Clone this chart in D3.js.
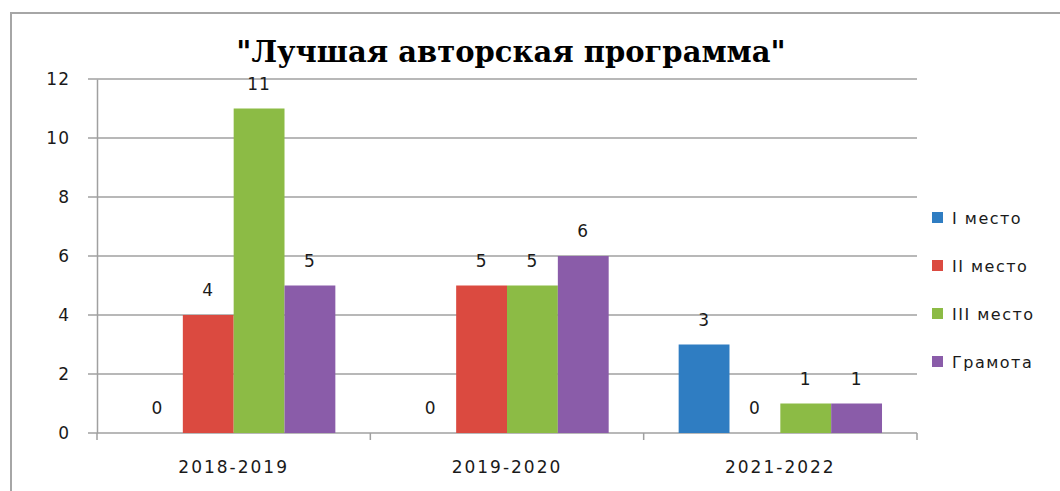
<!DOCTYPE html>
<html>
<head>
<meta charset="utf-8">
<script src="https://cdn.jsdelivr.net/npm/d3@7"></script>
<style>
	body { margin: 0; background: #fff; }
	text { font-family: "DejaVu Sans", sans-serif; fill: #1a1a1a; }
	text.title { font-family: "DejaVu Serif", serif; font-weight: bold; fill: #000; }
</style>
</head>
<body>
<script>
var categories = ["2018-2019", "2019-2020", "2021-2022"];
var seriesNames = ["I место", "II место", "III место", "Грамота"];
var seriesColors = ["#2f7dc2", "#db4a40", "#8cbb45", "#8a5ca9"];
var values = [
	[0, 0, 3],   // I место
	[4, 5, 0],   // II место
	[11, 5, 1],  // III место
	[5, 6, 1]    // Грамота
];
var yTicks = [0, 2, 4, 6, 8, 10, 12];
var title = "\"Лучшая авторская программа\"";

var W = 1060, H = 491;
var margin = { top: 79, right: 143, bottom: 58, left: 97 };
var width = W - margin.left - margin.right;
var height = H - margin.top - margin.bottom;

var svg = d3.select("body").append("svg")
	.attr("width", W)
	.attr("height", H);

// outer frame
svg.append("path")
	.attr("d", "M11," + H + " V13 H" + W)
	.attr("fill", "none")
	.attr("stroke", "#a6a6a6")
	.attr("stroke-width", 2);

svg.append("text")
	.attr("class", "title")
	.attr("x", 511)
	.attr("y", 62)
	.attr("text-anchor", "middle")
	.style("font-size", "29px")
	.text(title);

var g = svg.append("g")
	.attr("transform", "translate(" + margin.left + "," + margin.top + ")");

var x0 = d3.scaleBand()
	.domain(categories)
	.range([0, width])
	.paddingInner(0.256)
	.paddingOuter(0.128);

var x1 = d3.scaleBand()
	.domain(d3.range(seriesNames.length))
	.range([0, x0.bandwidth()]);

var y = d3.scaleLinear()
	.domain([0, 12])
	.range([height, 0]);

// gridlines
g.selectAll(".grid")
	.data(yTicks)
	.enter().append("line")
	.attr("x1", -9)
	.attr("x2", width)
	.attr("y1", function (d) { return y(d); })
	.attr("y2", function (d) { return y(d); })
	.attr("stroke", "#a0a0a0")
	.attr("stroke-width", 1.5);

// y axis
var yAxis = g.append("g")
	.call(d3.axisLeft(y).tickValues(yTicks).tickSize(0).tickPadding(27));
yAxis.select(".domain").attr("stroke", "#a0a0a0").attr("stroke-width", 1.5);
yAxis.selectAll("text")
	.style("font-family", "'DejaVu Sans', sans-serif")
	.style("font-size", "17px")
	.style("letter-spacing", "1px")
	.attr("fill", "#1a1a1a");

// x axis category separators
var xTicks = d3.range(categories.length + 1).map(function (i) { return i * x0.step(); });
g.selectAll(".xtick")
	.data(xTicks)
	.enter().append("line")
	.attr("x1", function (d) { return d; })
	.attr("x2", function (d) { return d; })
	.attr("y1", height)
	.attr("y2", height + 7)
	.attr("stroke", "#a0a0a0")
	.attr("stroke-width", 1.5);

g.selectAll(".xlab")
	.data(categories)
	.enter().append("text")
	.attr("x", function (d) { return x0(d) + x0.bandwidth() / 2; })
	.attr("y", height + 40)
	.attr("text-anchor", "middle")
	.style("font-size", "17px")
	.style("letter-spacing", "2px")
	.text(function (d) { return d; });

// bars
var flat = [];
values.forEach(function (row, s) {
	row.forEach(function (v, c) {
		flat.push({ s: s, c: categories[c], v: v });
	});
});

g.selectAll(".bar")
	.data(flat)
	.enter().append("rect")
	.attr("x", function (d) { return x0(d.c) + x1(d.s); })
	.attr("y", function (d) { return y(d.v); })
	.attr("width", x1.bandwidth())
	.attr("height", function (d) { return height - y(d.v); })
	.attr("fill", function (d) { return seriesColors[d.s]; });

g.selectAll(".val")
	.data(flat)
	.enter().append("text")
	.attr("x", function (d) { return x0(d.c) + x1(d.s) + x1.bandwidth() / 2; })
	.attr("y", function (d) { return y(d.v) - 19; })
	.attr("text-anchor", "middle")
	.style("font-size", "17px")
	.style("letter-spacing", "1px")
	.text(function (d) { return d.v; });

// legend
var legend = svg.selectAll(".legend")
	.data(seriesNames)
	.enter().append("g")
	.attr("transform", function (d, i) { return "translate(932," + (218 + i * 48) + ")"; });

legend.append("rect")
	.attr("x", 0)
	.attr("y", -6)
	.attr("width", 11)
	.attr("height", 11)
	.attr("fill", function (d, i) { return seriesColors[i]; });

legend.append("text")
	.attr("x", 20)
	.attr("y", 6)
	.style("font-size", "16px")
	.style("letter-spacing", "1.5px")
	.text(function (d) { return d; });
</script>
</body>
</html>
